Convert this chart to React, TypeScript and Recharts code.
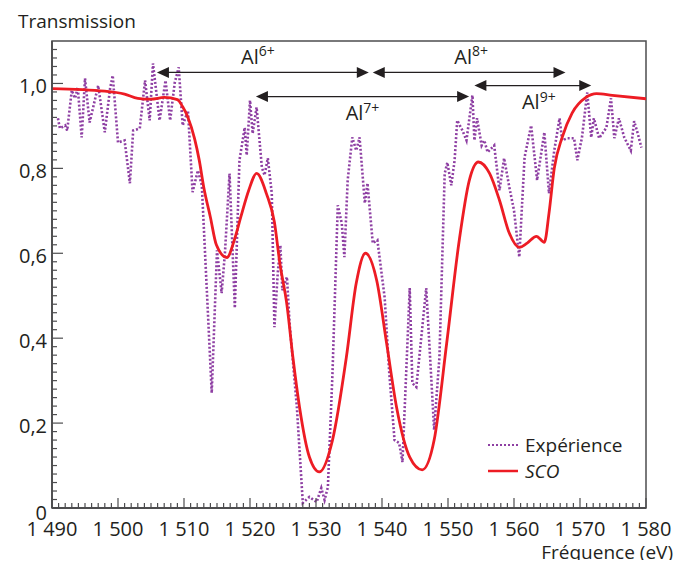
import { LineChart, Line, XAxis, YAxis, ReferenceArea, ReferenceLine, Legend } from 'recharts'

const FONT = '"Open Sans", "Noto Sans", sans-serif'
const INK = '#231f20'
const AXIS = '#4d4d4f'
const PURPLE = '#8e3fa3'
const RED = '#ed1c24'

// Experimental transmission (dotted purple)
const expEnergy = [
  1490.9, 1491.2, 1492.0, 1492.3, 1493.0, 1493.5, 1493.9, 1494.5, 1495.0, 1495.7,
  1497.0, 1498.0, 1498.8, 1499.2, 1500.0, 1501.0, 1501.8, 1502.3, 1503.3, 1504.1,
  1504.8, 1505.3, 1506.3, 1507.2, 1507.9, 1508.6, 1509.2, 1509.8, 1510.6, 1511.3,
  1512.1, 1512.7, 1514.2, 1515.0, 1515.7, 1516.2, 1516.9, 1517.7, 1518.4, 1519.2,
  1519.5, 1520.0, 1520.4, 1521.0, 1521.8, 1522.2, 1522.7, 1523.3, 1523.7, 1524.2,
  1524.6, 1524.9, 1525.6, 1526.0, 1527.1, 1528.0, 1529.0, 1530.1, 1530.8, 1531.3,
  1531.8, 1532.5, 1533.3, 1533.9, 1534.3, 1534.8, 1535.5, 1536.1, 1536.6, 1537.4,
  1537.8, 1538.6, 1539.3, 1540.4, 1541.1, 1541.9, 1542.6, 1543.1, 1544.2, 1544.6,
  1545.2, 1546.7, 1547.9, 1548.7, 1549.5, 1549.9, 1550.5, 1551.0, 1551.4, 1552.2,
  1552.8, 1553.7, 1554.0, 1554.4, 1555.1, 1555.5, 1556.0, 1557.0, 1557.8, 1558.5,
  1559.3, 1560.0, 1560.8, 1561.6, 1562.6, 1563.5, 1564.6, 1565.3, 1566.1, 1566.9,
  1567.3, 1568.1, 1569.1, 1569.6, 1570.3, 1571.1, 1571.7, 1572.1, 1572.9, 1574.0,
  1574.7, 1575.2, 1575.9, 1576.7, 1577.7, 1578.2, 1578.7, 1579.3,
]
const expTransmission = [
  0.918, 0.894, 0.901, 0.889, 0.984, 0.965, 0.991, 0.873, 1.012, 0.908,
  0.995, 0.885, 0.988, 1.019, 0.861, 0.866, 0.765, 0.889, 0.894, 1.007,
  0.913, 1.047, 0.913, 1.007, 0.913, 1.002, 1.038, 0.901, 0.936, 0.744,
  0.795, 0.76, 0.271, 0.607, 0.506, 0.6, 0.788, 0.471, 0.819, 0.896,
  0.831, 0.96, 0.882, 0.944, 0.802, 0.784, 0.824, 0.741, 0.426, 0.553,
  0.619, 0.513, 0.544, 0.435, 0.238, 0.012, 0.026, 0.014, 0.047, 0.019,
  0.049, 0.318, 0.713, 0.671, 0.591, 0.772, 0.873, 0.842, 0.873, 0.718,
  0.765, 0.624, 0.631, 0.496, 0.318, 0.16, 0.153, 0.108, 0.518, 0.294,
  0.285, 0.518, 0.184, 0.355, 0.788, 0.814, 0.76, 0.819, 0.913, 0.889,
  0.866, 0.972, 0.866, 0.918, 0.854, 0.866, 0.838, 0.854, 0.748, 0.824,
  0.755, 0.701, 0.591, 0.826, 0.901, 0.772, 0.885, 0.741, 0.842, 0.918,
  0.866, 0.871, 0.871, 0.819, 0.873, 0.979, 0.873, 0.918, 0.871, 0.896,
  0.965, 0.871, 0.918, 0.873, 0.842, 0.911, 0.885, 0.849,
]

// SCO calculation (solid red)
const scoEnergy = [
  1490, 1498, 1501, 1503, 1505, 1507, 1509, 1509.8, 1510.6, 1511.6,
  1512.3, 1513.0, 1514.0, 1514.9, 1516.5, 1517.6, 1518.6, 1519.8, 1521.0, 1522.5,
  1523.7, 1524.5, 1525.6, 1526.5, 1527.5, 1529.0, 1530.5, 1532.5, 1534.6, 1536.1,
  1537.5, 1539.2, 1540.7, 1542.2, 1544.2, 1546.1, 1547.9, 1549.8, 1551.7, 1553.2,
  1554.6, 1556.3, 1557.8, 1559.3, 1560.8, 1562.0, 1563.4, 1564.6, 1565.3, 1566.1,
  1567.3, 1568.8, 1570.9, 1572.5, 1574.9, 1580,
]
const scoTransmission = [
  0.988, 0.982, 0.975, 0.965, 0.963, 0.967, 0.962, 0.945, 0.92, 0.87,
  0.82, 0.755, 0.685, 0.62, 0.59, 0.63, 0.685, 0.748, 0.788, 0.74,
  0.673, 0.579, 0.478, 0.355, 0.238, 0.12, 0.085, 0.16, 0.355, 0.53,
  0.6, 0.536, 0.388, 0.238, 0.12, 0.09, 0.16, 0.388, 0.63, 0.77,
  0.815, 0.788, 0.725, 0.647, 0.614, 0.624, 0.64, 0.626, 0.694, 0.8,
  0.873, 0.93, 0.967, 0.976, 0.972, 0.964,
]

const xMajorTicks = [1490, 1500, 1510, 1520, 1530, 1540, 1550, 1560, 1570, 1580]
const xTickLabels = ['1 490', '1 500', '1 510', '1 520', '1 530', '1 540', '1 550', '1 560', '1 570', '1 580']
const yMajorTicks = [0, 0.2, 0.4, 0.6, 0.8, 1.0]
const yTickLabels = ['0', '0,2', '0,4', '0,6', '0,8', '1,0']

// ion ranges marked with double arrows
const ionNames = ['Al', 'Al', 'Al', 'Al']
const ionCharges = ['6+', '7+', '8+', '9+']
const ionFrom = [1505.9, 1520.9, 1538.6, 1554.0]
const ionTo = [1538.0, 1553.2, 1567.8, 1571.7]
const ionLevel = [1.026, 0.969, 1.026, 0.995]
const ionLabelAbove = [true, false, true, false]
const ionLabelShift = [-5, 0, 2, 6]

const xMinorTicks = Array.from({ length: 91 }, (_, i) => 1490 + i)
const yMinorTicks = Array.from({ length: 55 }, (_, i) => Math.round(i * 2) / 100)

const expData = expEnergy.map((e, i) => ({ e, t: expTransmission[i] }))
const scoData = scoEnergy.map((e, i) => ({ e, t: scoTransmission[i] }))

const XTick = (props: any) => {
  const { x, y, payload } = props
  const idx = xMajorTicks.findIndex((v) => Math.abs(v - payload.value) < 1e-6)
  const major = idx >= 0
  return (
    <g>
      <line x1={x} x2={x} y1={y} y2={y - (major ? 10 : 5)} stroke={AXIS} strokeWidth={1.2} />
      {major && (
        <text x={x} y={y + 20} textAnchor="middle" dominantBaseline="central" fontSize={20} fill={INK} fontFamily={FONT}>
          {xTickLabels[idx]}
        </text>
      )}
    </g>
  )
}

const YTick = (props: any) => {
  const { x, y, payload } = props
  const idx = yMajorTicks.findIndex((v) => Math.abs(v - payload.value) < 1e-6)
  const major = idx >= 0
  return (
    <g>
      <line x1={x} x2={x + (major ? 11 : 5)} y1={y} y2={y} stroke={AXIS} strokeWidth={1.2} />
      {major && (
        <text x={x - 5} y={y + (idx === 0 ? 4 : 2)} textAnchor="end" dominantBaseline="central" fontSize={20} fill={INK} fontFamily={FONT}>
          {yTickLabels[idx]}
        </text>
      )}
    </g>
  )
}

const makeArrow = (i: number) => (p: any) => {
  const { x1, y1, x2 } = p
  const head = 12
  const half = 5.5
  const mid = (x1 + x2) / 2 + ionLabelShift[i]
  const ly = ionLabelAbove[i] ? y1 - 16 : y1 + 16
  return (
    <g>
      <line x1={x1 + 4} x2={x2 - 4} y1={y1} y2={y1} stroke={INK} strokeWidth={1.3} />
      <polygon points={`${x1},${y1} ${x1 + head},${y1 - half} ${x1 + head},${y1 + half}`} fill={INK} />
      <polygon points={`${x2},${y1} ${x2 - head},${y1 - half} ${x2 - head},${y1 + half}`} fill={INK} />
      <text x={mid} y={ly} textAnchor="middle" dominantBaseline="central" fontSize={20} fill={INK} fontFamily={FONT}>
        {ionNames[i]}
        <tspan dy={-6} fontSize={14}>{ionCharges[i]}</tspan>
      </text>
    </g>
  )
}

const renderLegend = (props: any) => {
  const { payload } = props
  return (
    <div style={{ fontFamily: FONT, fontSize: 19, color: INK }}>
      {(payload || []).map((entry: any) => {
        const dotted = entry.value === 'Expérience'
        return (
          <div key={entry.value} style={{ display: 'flex', alignItems: 'center', height: 26 }}>
            <svg width={31} height={10}>
              <line
                x1={0}
                x2={30}
                y1={5}
                y2={5}
                stroke={entry.color}
                strokeWidth={dotted ? 2 : 2.5}
                strokeDasharray={dotted ? '2 2' : undefined}
              />
            </svg>
            <span style={{ marginLeft: 6, fontStyle: dotted ? 'normal' : 'italic', lineHeight: '26px' }}>{entry.value}</span>
          </div>
        )
      })}
    </div>
  )
}

export default function App() {
  return (
    <div style={{ position: 'relative', width: 671, height: 552, fontFamily: FONT }}>
      <div style={{ position: 'absolute', left: 10, top: 3, fontSize: 19, lineHeight: '20px', color: INK }}>Transmission</div>
      <div style={{ position: 'absolute', right: 6, top: 534, fontSize: 19, lineHeight: '20px', color: INK }}>Fréquence (eV)</div>
      <LineChart width={671} height={552} margin={{ top: 33, right: 33, bottom: 0, left: 0 }}>
        <XAxis
          type="number"
          dataKey="e"
          domain={[1490, 1580]}
          ticks={xMinorTicks}
          interval={0}
          tickSize={0}
          tickMargin={0}
          tickLine={false}
          tick={XTick}
          height={52}
          axisLine={{ stroke: AXIS, strokeWidth: 1.8 }}
          allowDataOverflow
        />
        <YAxis
          type="number"
          domain={[0, 1.1]}
          ticks={yMinorTicks}
          interval={0}
          tickSize={0}
          tickMargin={0}
          tickLine={false}
          tick={YTick}
          width={44}
          axisLine={{ stroke: AXIS, strokeWidth: 1.8 }}
          allowDataOverflow
        />
        <ReferenceArea x1={1490} x2={1580} y1={0} y2={1.1} fill="none" stroke={AXIS} strokeWidth={1.5} />
        <Line
          data={expData}
          dataKey="t"
          name="Expérience"
          type="linear"
          stroke={PURPLE}
          strokeWidth={2.6}
          strokeDasharray="2 2"
          dot={false}
          isAnimationActive={false}
        />
        <Line
          data={scoData}
          dataKey="t"
          name="SCO"
          type="monotone"
          stroke={RED}
          strokeWidth={2.8}
          dot={false}
          isAnimationActive={false}
        />
        {ionFrom.map((from, i) => (
          <ReferenceLine
            key={i}
            segment={[{ x: from, y: ionLevel[i] }, { x: ionTo[i], y: ionLevel[i] }]}
            shape={makeArrow(i)}
          />
        ))}
        <Legend
          layout="vertical"
          align="center"
          verticalAlign="middle"
          content={renderLegend}
          wrapperStyle={{ left: 480, top: 424, width: 170 }}
        />
      </LineChart>
    </div>
  )
}
